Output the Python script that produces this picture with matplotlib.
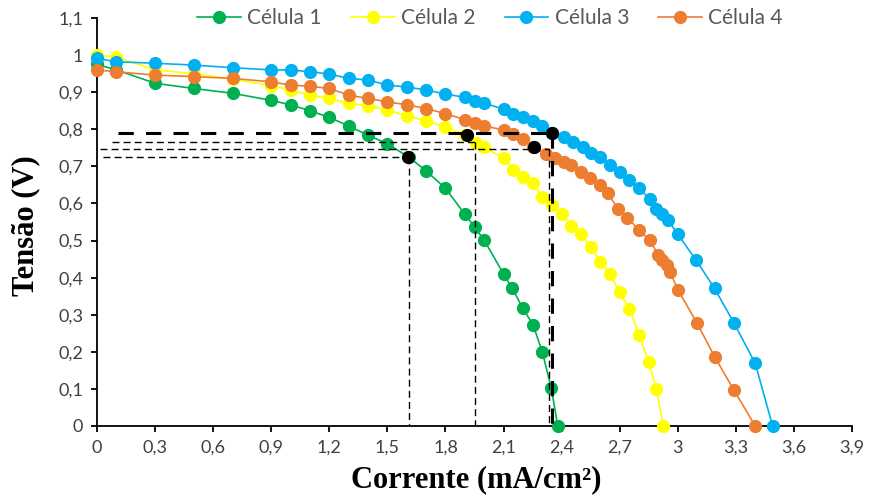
import matplotlib
matplotlib.use("Agg")
import matplotlib.pyplot as plt
from matplotlib.ticker import FuncFormatter, MultipleLocator

# ---- data ----
x_c1 = [0, 0.1, 0.3, 0.5, 0.7, 0.9, 1.0, 1.1, 1.2, 1.3, 1.4, 1.5, 1.61, 1.70, 1.80, 1.90,
        1.95, 2.0, 2.1, 2.145, 2.2, 2.253, 2.3, 2.347, 2.38]
y_c1 = [0.975, 0.96, 0.924, 0.910, 0.897, 0.878, 0.866, 0.850, 0.832, 0.809, 0.784, 0.761,
        0.725, 0.688, 0.641, 0.571, 0.537, 0.501, 0.410, 0.371, 0.317, 0.272, 0.200, 0.102, 0.0]

x_c2 = [0, 0.1, 0.3, 0.5, 0.7, 0.9, 1.0, 1.1, 1.2, 1.3, 1.4, 1.5, 1.6, 1.7, 1.8, 1.9, 1.96,
        2.0, 2.1, 2.15, 2.2, 2.25, 2.3, 2.35, 2.4, 2.45, 2.5, 2.55, 2.6, 2.65, 2.7, 2.75, 2.8,
        2.85, 2.89, 2.925]
y_c2 = [1.0, 0.995, 0.96, 0.95, 0.935, 0.918, 0.906, 0.892, 0.883, 0.870, 0.863, 0.852,
        0.836, 0.822, 0.807, 0.784, 0.762, 0.751, 0.722, 0.690, 0.672, 0.654, 0.618, 0.596,
        0.572, 0.538, 0.518, 0.482, 0.443, 0.41, 0.36, 0.316, 0.245, 0.173, 0.099, 0.0]

x_c3 = [0, 0.1, 0.3, 0.5, 0.7, 0.9, 1.0, 1.1, 1.2, 1.3, 1.4, 1.5, 1.6, 1.7, 1.8, 1.9, 1.95,
        2.0, 2.1, 2.15, 2.2, 2.25, 2.3, 2.35, 2.41, 2.46, 2.51, 2.55, 2.6, 2.65, 2.7, 2.75,
        2.8, 2.855, 2.89, 2.92, 2.95, 3.0, 3.095, 3.19, 3.29, 3.4, 3.49]
y_c3 = [0.991, 0.982, 0.978, 0.973, 0.966, 0.960, 0.960, 0.955, 0.949, 0.937, 0.933, 0.919,
        0.914, 0.906, 0.895, 0.886, 0.876, 0.871, 0.854, 0.841, 0.834, 0.823, 0.809, 0.791,
        0.778, 0.766, 0.753, 0.737, 0.726, 0.703, 0.685, 0.663, 0.641, 0.612, 0.585, 0.571,
        0.555, 0.517, 0.447, 0.371, 0.278, 0.169, 0.0]

x_c4 = [0, 0.1, 0.3, 0.5, 0.7, 0.9, 1.0, 1.1, 1.2, 1.3, 1.4, 1.5, 1.6, 1.7, 1.8, 1.9, 1.95,
        2.0, 2.1, 2.15, 2.2, 2.25, 2.32, 2.365, 2.41, 2.45, 2.5, 2.545, 2.6, 2.64, 2.69, 2.74,
        2.8, 2.855, 2.9, 2.92, 2.945, 2.96, 3.0, 3.1, 3.19, 3.29, 3.4]
y_c4 = [0.96, 0.955, 0.946, 0.942, 0.937, 0.928, 0.919, 0.916, 0.910, 0.892, 0.883, 0.874,
        0.866, 0.856, 0.842, 0.826, 0.816, 0.809, 0.798, 0.786, 0.775, 0.753, 0.733, 0.722,
        0.712, 0.703, 0.685, 0.668, 0.650, 0.627, 0.586, 0.562, 0.528, 0.501, 0.461, 0.447,
        0.434, 0.416, 0.368, 0.277, 0.187, 0.097, 0.0]

# maximum power points
mpp_x = [1.608, 1.909, 2.256, 2.35]
mpp_y = [0.726, 0.784, 0.753, 0.791]

# guide lines: (x_start, y_level, x_vertical)
guide_c1 = (0.03, 0.726, 1.613)
guide_c2 = (0.077, 0.766, 1.955)
guide_c4 = (0.015, 0.748, 2.335)
guide_c3 = (0.108, 0.790, 2.35)

labels = ["Célula 1", "Célula 2", "Célula 3", "Célula 4"]
colors = ["#00B050", "#FFFF00", "#00B0F0", "#ED7D31"]

xmax = 3.9
ymax = 1.1

# ---- figure ----
fig = plt.figure(figsize=(8.69, 4.99), dpi=100)
ax = fig.add_axes([97/869, 1-426/499, 755/869, 408/499])

series = [(x_c1, y_c1), (x_c2, y_c2), (x_c3, y_c3), (x_c4, y_c4)]
handles = []
for (xs, ys), lab, col in zip(series, labels, colors):
    h, = ax.plot(xs, ys, '-o', color=col, lw=1.2, ms=8.5, mec=col, label=lab, zorder=3,
                 clip_on=False)
    handles.append(h)

thin = dict(color='black', lw=1.0, dashes=(5, 3), zorder=4)
for gx0, gy, gxv in [guide_c1, guide_c2, guide_c4]:
    ax.plot([gx0, gxv], [gy, gy], **thin)
    ax.plot([gxv, gxv], [gy, 0], **thin)
gx0, gy, gxv = guide_c3
ax.plot([gx0, gxv], [gy, gy], color='black', lw=2.2, dashes=(5, 4), zorder=4)
ax.plot([gxv, gxv], [gy, 0], color='black', lw=2.2, dashes=(5, 4), zorder=4)

ax.plot(mpp_x, mpp_y, 'o', color='black', ms=8.5, zorder=5, ls='none')

ax.set_xlim(0, xmax)
ax.set_ylim(0, ymax)
ax.xaxis.set_major_locator(MultipleLocator(0.3))
ax.yaxis.set_major_locator(MultipleLocator(0.1))

def fmt(v, pos):
    s = f"{round(v, 2):g}"
    return s.replace('.', ',')

ax.xaxis.set_major_formatter(FuncFormatter(fmt))
ax.yaxis.set_major_formatter(FuncFormatter(fmt))

for sp in ['top', 'right']:
    ax.spines[sp].set_visible(False)
for sp in ['left', 'bottom']:
    ax.spines[sp].set_linewidth(1.3)
    ax.spines[sp].set_color('black')

ax.tick_params(direction='out', length=4, width=1.3, colors='black',
               labelsize=13, labelcolor='#404040', pad=6)
for t in ax.get_xticklabels() + ax.get_yticklabels():
    t.set_fontfamily('Lato')

ax.set_xlabel("Corrente (mA/cm²)", fontfamily='Liberation Serif',
              fontweight='bold', fontsize=22)
ax.set_ylabel("Tensão (V)", fontfamily='Liberation Serif', fontweight='bold',
              fontsize=22)
ax.xaxis.set_label_coords(0.502, -0.095)
ax.yaxis.set_label_coords(-0.075, 0.49)

fig.legend(handles=handles, labels=labels, loc='center', bbox_to_anchor=(490/869, 1-18/499),
           ncol=4, frameon=False, handlelength=2.1, handletextpad=0.3, columnspacing=1.4,
           prop={'family': 'Lato', 'size': 15}, labelcolor='#595959')

fig.savefig("out.png", dpi=100)
